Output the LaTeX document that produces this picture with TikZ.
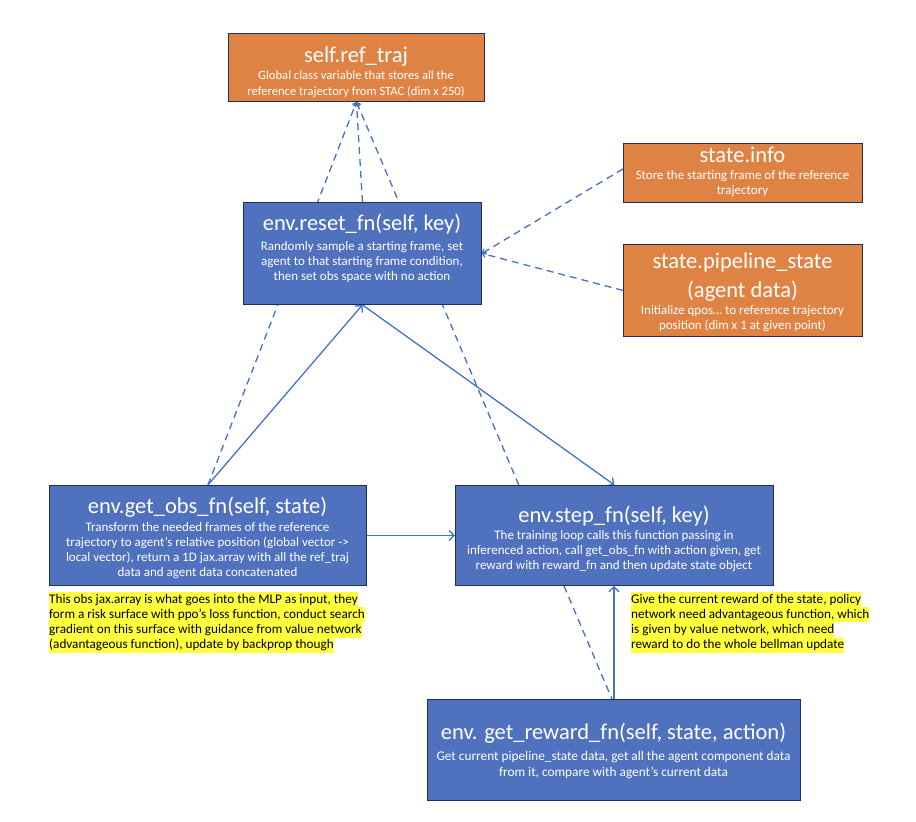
\documentclass[tikz,border=0pt]{standalone}
\usepackage{fontspec}
\setmainfont{Carlito}
\usetikzlibrary{arrows.meta,calc}
\pgfdeclarelayer{back}
\pgfsetlayers{back,main}

\definecolor{boxblue}{HTML}{4F71BE}
\definecolor{boxorange}{HTML}{DF8344}
\definecolor{edgenavy}{HTML}{1F2F55}
\definecolor{linkblue}{HTML}{4472C4}
\definecolor{hilite}{HTML}{FFFF3C}

\tikzset{
  box/.style={draw=edgenavy, line width=0.9pt, inner sep=0pt, anchor=north west},
  bluebox/.style={box, fill=boxblue},
  orangebox/.style={box, fill=boxorange},
  boxtitle/.style={text=white, font=\fontsize{22.5}{26}\selectfont, anchor=base, inner sep=0pt},
  boxdesc/.style={text=white, font=\fontsize{13}{15}\selectfont, anchor=base, inner sep=0pt},
  link/.style={draw=linkblue, line width=1.3pt},
  dashlink/.style={link, dash pattern=on 7pt off 5pt},
  tipend/.style={-{Straight Barb[length=5pt,width=10pt]}},
  tipsmall/.style={-{Straight Barb[length=3pt,width=6pt]}},
  noteline/.style={fill=hilite, anchor=base west, inner sep=0pt, text height=11.4pt, text depth=3.9pt,
    font=\fontsize{13.2}{15.3}\selectfont},
}

% one centred line per list item: style, name prefix, x, first baseline, line step, items
\newcommand\centredlines[6]{%
  \foreach \ln [count=\li] in {#6}
    \node[#1] (#2\li) at (#3, {#4 + (\li-1)*#5}) {\ln};%
}

\begin{document}
\begin{tikzpicture}[x=1pt, y=-1pt]
  \begin{pgfonlayer}{back}
    \fill[white] (0,0) rectangle (916,822);
  \end{pgfonlayer}
  \useasboundingbox (0,0) rectangle (916,822);

  % ---------- boxes ----------
  \node[orangebox, minimum width=256pt, minimum height=68pt] (reftraj) at (228,33) {};
  \node[bluebox, minimum width=238pt, minimum height=102pt] (reset) at (243,202) {};
  \node[orangebox, minimum width=239pt, minimum height=59pt] (info) at (623,143) {};
  \node[orangebox, minimum width=239pt, minimum height=92pt] (pipe) at (623,244) {};
  \node[bluebox, minimum width=317pt, minimum height=100pt] (obs) at (49,485) {};
  \node[bluebox, minimum width=318pt, minimum height=100pt] (step) at (455,485) {};
  \node[bluebox, minimum width=373pt, minimum height=101pt] (reward) at (427,699) {};

  % ---------- box texts ----------
  \node[boxtitle] (reftrajT) at (356,62) {self.ref\_traj};
  \centredlines{boxdesc, font=\fontsize{12.6}{15}\selectfont}{reftrajD}{356}{79}{16}{%
    {Global class variable that stores all the},
    {reference trajectory from STAC (dim x 250)}}

  \node[boxtitle] (resetT) at (362,230) {env.reset\_fn(self, key)};
  \centredlines{boxdesc}{resetD}{362}{250}{15}{%
    {Randomly sample a starting frame, set},
    {agent to that starting frame condition,},
    {then set obs space with no action}}

  \node[boxtitle] (infoT) at (742.5,162) {state.info};
  \centredlines{boxdesc}{infoD}{742.5}{179}{15}{%
    {Store the starting frame of the reference},
    {trajectory}}

  \centredlines{boxtitle}{pipeT}{742.5}{268}{29}{%
    {state.pipeline\_state},
    {(agent data)}}
  \centredlines{boxdesc}{pipeD}{742.5}{314}{15}{%
    {Initialize qpos… to reference trajectory},
    {position (dim x 1 at given point)}}

  \node[boxtitle] (obsT) at (207.5,513) {env.get\_obs\_fn(self, state)};
  \centredlines{boxdesc}{obsD}{207.5}{531}{15}{%
    {Transform the needed frames of the reference},
    {trajectory to agent’s relative position (global vector ->},
    {local vector), return a 1D jax.array with all the ref\_traj},
    {data and agent data concatenated}}

  \node[boxtitle] (stepT) at (614,522) {env.step\_fn(self, key)};
  \centredlines{boxdesc}{stepD}{614}{539}{15}{%
    {The training loop calls this function passing in},
    {inferenced action, call get\_obs\_fn with action given, get},
    {reward with reward\_fn and then update state object}}

  \node[boxtitle] (rewardT) at (613.5,739) {env. get\_reward\_fn(self, state, action)};
  \centredlines{boxdesc, font=\fontsize{13.3}{15}\selectfont}{rewardD}{613.5}{760}{16}{%
    {Get current pipeline\_state data, get all the agent component data},
    {from it, compare with agent’s current data}}

  % ---------- highlighted notes ----------
  \node[noteline] (obsN1) at (49,603) {This obs jax.array is what goes into the MLP as input, they};
  \node[noteline] (obsN2) at (49,618.3) {form a risk surface with ppo’s loss function, conduct search};
  \node[noteline] (obsN3) at (49,633.6) {gradient on this surface with guidance from value network};
  \node[noteline] (obsN4) at (49,648.9) {(advantageous function), update by backprop though};

  \node[noteline] (rewN1) at (631,603) {Give the current reward of the state, policy};
  \node[noteline] (rewN2) at (631,618.3) {network need advantageous function, which};
  \node[noteline] (rewN3) at (631,633.6) {is given by value network, which need};
  \node[noteline] (rewN4) at (631,648.9) {reward to do the whole bellman update};

  % ---------- connectors (behind the boxes) ----------
  \begin{pgfonlayer}{back}
    % reads of the reference trajectory
    \draw[dashlink, tipsmall] (obs.north) -- (reftraj.south);
    \draw[dashlink, tipsmall] (reset.north) -- (reftraj.south);
    \draw[dashlink, tipsmall] ($(step.north west)!0.2!(step.north east)$) -- (reftraj.south);
    % state written by reset
    \draw[dashlink, tipsmall] ($(info.west)+(0,-4)$) -- (reset.east);
    \draw[dashlink, tipsmall] (pipe.west) -- (reset.east);
    % control flow
    \draw[link, tipend] (obs.north) -- (reset.south);
    \draw[link, tipend] (reset.south) -- (step.north);
    \draw[link, tipend] (obs.east) -- (step.west);
    \draw[dashlink] ($(step.south west)+(109,0)$) -- ($(reward.north)+(-2,0)$);
    \draw[link, tipend] (reward.north) -- (reward.north |- step.south);
  \end{pgfonlayer}
\end{tikzpicture}
\end{document}
